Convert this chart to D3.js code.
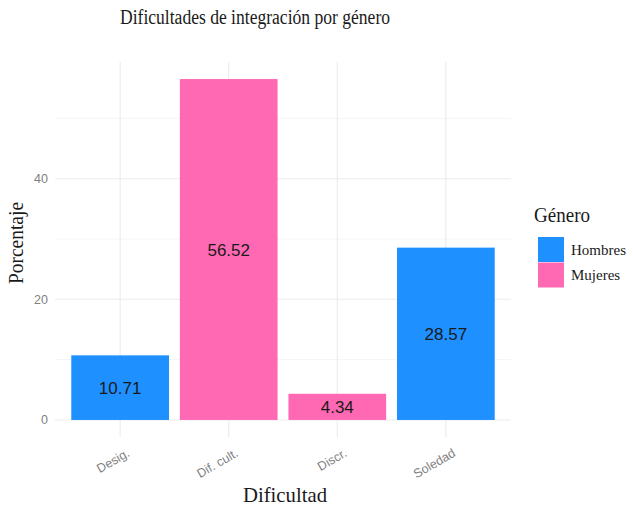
<!DOCTYPE html>
<html>
<head>
<meta charset="utf-8">
<script src="https://cdn.jsdelivr.net/npm/d3@7"></script>
<style>
  body { margin: 0; background: #fff; }
</style>
</head>
<body>
<div id="chart"></div>
<script>
var categories = ["Desig.", "Dif. cult.", "Discr.", "Soledad"]
var values = [10.71, 56.52, 4.34, 28.57]
var genders = ["Hombres", "Mujeres", "Mujeres", "Hombres"]
var legendKeys = ["Hombres", "Mujeres"]
var yTicks = [0, 20, 40]
var yMinor = [10, 30, 50]

var width = 633, height = 509
var serif = "'Liberation Serif', 'DejaVu Serif', serif"
var sans = "'Liberation Sans', Arial, sans-serif"

var svg = d3.select("#chart").append("svg")
  .attr("width", width)
  .attr("height", height)

var panel = { left: 55, right: 511, top: 62, bottom: 437 }

var ymax = d3.max(values)
var y = d3.scaleLinear()
  .domain([-ymax * 0.05, ymax * 1.05])
  .range([panel.bottom, panel.top])

// discrete scale, 0.6 expansion each side
var step = (panel.right - panel.left) / (categories.length - 1 + 1.2)
var x = d3.scalePoint()
  .domain(categories)
  .range([panel.left + 0.6 * step, panel.right - 0.6 * step])

var color = d3.scaleOrdinal()
  .domain(legendKeys)
  .range(["#1E90FF", "#FF69B4"])

// grid
svg.append("g").selectAll("line")
  .data(yMinor)
  .enter().append("line")
  .attr("x1", panel.left).attr("x2", panel.right)
  .attr("y1", function (d) { return y(d) })
  .attr("y2", function (d) { return y(d) })
  .attr("stroke", "#f2f2f2").attr("stroke-width", 0.8)

svg.append("g").selectAll("line")
  .data(yTicks)
  .enter().append("line")
  .attr("x1", panel.left).attr("x2", panel.right)
  .attr("y1", function (d) { return y(d) })
  .attr("y2", function (d) { return y(d) })
  .attr("stroke", "#ebebeb").attr("stroke-width", 1.1)

svg.append("g").selectAll("line")
  .data(categories)
  .enter().append("line")
  .attr("x1", function (d) { return x(d) })
  .attr("x2", function (d) { return x(d) })
  .attr("y1", panel.top).attr("y2", panel.bottom)
  .attr("stroke", "#ebebeb").attr("stroke-width", 1.1)

// bars
var barW = step * 0.9
svg.append("g").selectAll("rect")
  .data(categories)
  .enter().append("rect")
  .attr("x", function (d) { return x(d) - barW / 2 })
  .attr("width", barW)
  .attr("y", function (d, i) { return y(values[i]) })
  .attr("height", function (d, i) { return y(0) - y(values[i]) })
  .attr("fill", function (d, i) { return color(genders[i]) })

svg.append("g").selectAll("text")
  .data(categories)
  .enter().append("text")
  .attr("x", function (d) { return x(d) })
  .attr("y", function (d, i) { return y(values[i] / 2) })
  .attr("dy", "0.36em")
  .attr("text-anchor", "middle")
  .style("font-family", sans)
  .style("font-size", "17px")
  .attr("fill", "#1a1a1a")
  .text(function (d, i) { return values[i].toFixed(2) })

// y axis labels
svg.append("g").selectAll("text")
  .data(yTicks)
  .enter().append("text")
  .attr("x", panel.left - 7)
  .attr("y", function (d) { return y(d) })
  .attr("dy", "0.36em")
  .attr("text-anchor", "end")
  .style("font-family", sans)
  .style("font-size", "12.5px")
  .attr("fill", "#7f7f7f")
  .text(function (d) { return d })

// x axis labels
svg.append("g").selectAll("text")
  .data(categories)
  .enter().append("text")
  .attr("transform", function (d) { return "translate(" + (x(d) + 6) + "," + (panel.bottom + 11) + ") rotate(-30)" })
  .attr("text-anchor", "end")
  .attr("dy", "0.7em")
  .style("font-family", sans)
  .style("font-size", "12.5px")
  .attr("fill", "#7f7f7f")
  .text(function (d) { return d })

// titles
svg.append("text")
  .attr("x", 255).attr("y", 24)
  .attr("text-anchor", "middle")
  .attr("textLength", 270)
  .attr("lengthAdjust", "spacingAndGlyphs")
  .style("font-family", serif)
  .style("font-size", "20px")
  .attr("fill", "#1a1a1a")
  .text("Dificultades de integración por género")

svg.append("text")
  .attr("x", 285).attr("y", 502)
  .attr("text-anchor", "middle")
  .attr("textLength", 84)
  .attr("lengthAdjust", "spacingAndGlyphs")
  .style("font-family", serif)
  .style("font-size", "21px")
  .attr("fill", "#1a1a1a")
  .text("Dificultad")

svg.append("text")
  .attr("transform", "translate(23,243) rotate(-90)")
  .attr("text-anchor", "middle")
  .attr("textLength", 82)
  .attr("lengthAdjust", "spacingAndGlyphs")
  .style("font-family", serif)
  .style("font-size", "21px")
  .attr("fill", "#1a1a1a")
  .text("Porcentaje")

// legend
var legend = svg.append("g").attr("transform", "translate(534,0)")
legend.append("text")
  .attr("x", 0).attr("y", 222)
  .attr("textLength", 56)
  .attr("lengthAdjust", "spacingAndGlyphs")
  .style("font-family", serif)
  .style("font-size", "20px")
  .attr("fill", "#1a1a1a")
  .text("Género")

var key = legend.selectAll("g")
  .data(legendKeys)
  .enter().append("g")
  .attr("transform", function (d, i) { return "translate(4," + (237 + i * 25.5) + ")" })

key.append("rect")
  .attr("width", 26).attr("height", 25)
  .attr("fill", function (d) { return color(d) })

key.append("text")
  .attr("x", 33).attr("y", 12.5)
  .attr("dy", "0.36em")
  .style("font-family", serif)
  .style("font-size", "15px")
  .attr("fill", "#1a1a1a")
  .text(function (d) { return d })
</script>
</body>
</html>
